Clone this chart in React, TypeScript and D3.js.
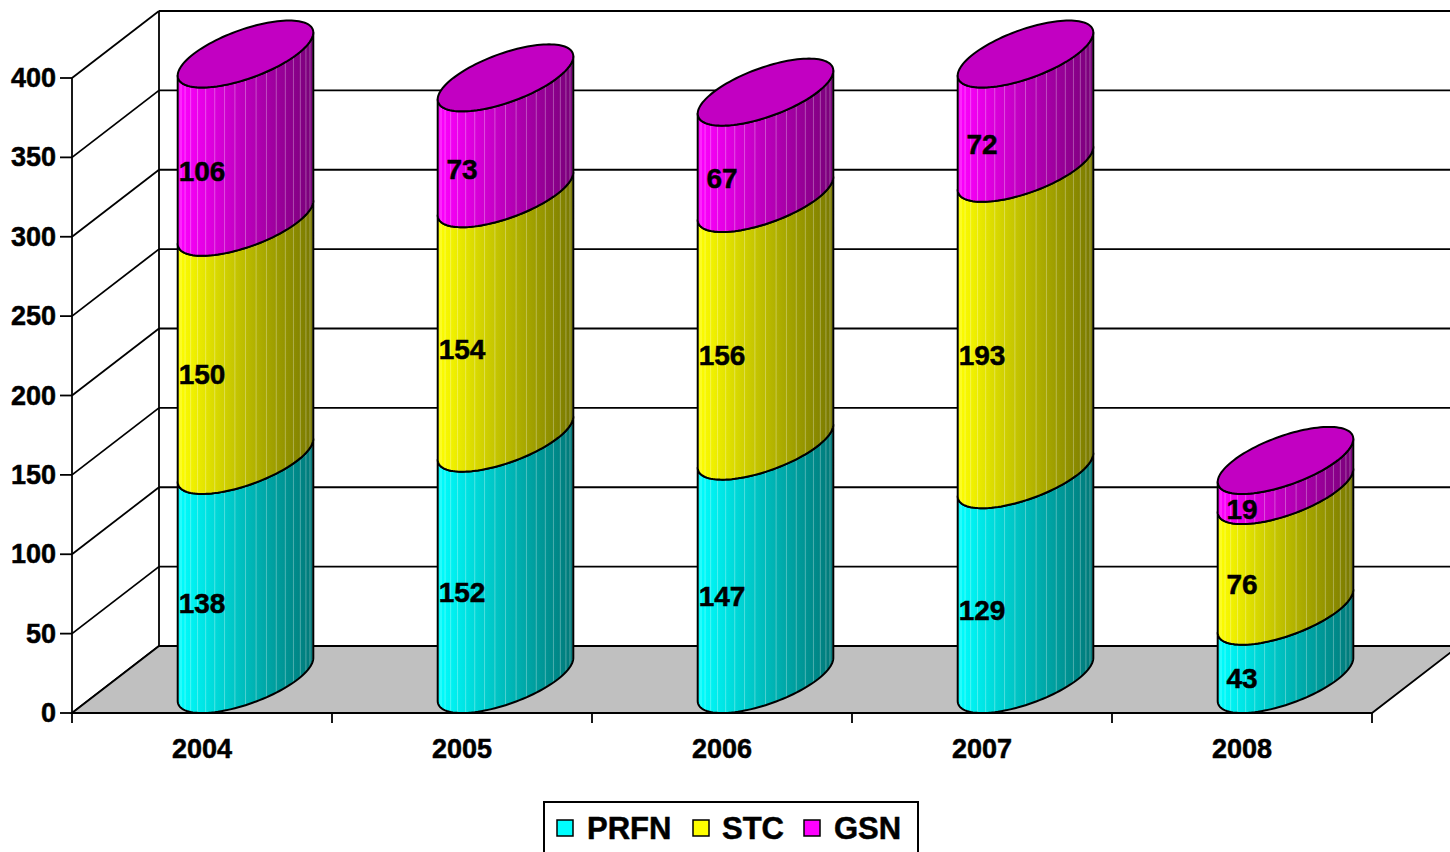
import React from "react";
import * as d3 from "d3";

// ---- data ----
const years = ["2004", "2005", "2006", "2007", "2008"];
const seriesNames = ["PRFN", "STC", "GSN"];
const prfn = [138, 152, 147, 129, 43];
const stc = [150, 154, 156, 193, 76];
const gsn = [106, 73, 67, 72, 19];
const yTicks = [0, 50, 100, 150, 200, 250, 300, 350, 400];

// ---- styling / layout ----
const W = 1450;
const H = 852;
const FONT = "'Liberation Sans', Arial, Helvetica, sans-serif";
const baseColors = ["#00FFFF", "#FFFF00", "#FF00FF"];
const darkColors = ["#007878", "#787800", "#780078"];
const DX = 87; // depth offset x
const DY = 67; // depth offset y
const legendLayout = { x: 544, y: 802, w: 374, h: 70, sq: [557, 693, 804], tx: [587, 722, 834], cy: 828 };
const textStroke = { stroke: "#000", strokeWidth: 0.5 };

export default function App() {
  const values = [prfn, stc, gsn];
  const y = d3.scaleLinear().domain([0, 400]).range([713, 78]);
  const x = d3.scaleBand<string>().domain(years).range([72, 1372]).padding(0);
  const bw = x.bandwidth();
  const rx = bw * 0.2;
  const hx = DX / 2;
  const hy = DY / 2;
  const t0 = Math.atan2(hx, rx);
  const tL = Math.PI + t0;
  const tR = 2 * Math.PI + t0;
  const line = d3.line<[number, number]>().curve(d3.curveLinear);

  const pt = (cx: number, v: number, t: number): [number, number] => [
    cx + rx * Math.cos(t) + hx * (1 + Math.sin(t)),
    y(v) - hy * (1 + Math.sin(t)),
  ];
  const arc = (cx: number, v: number, a: number, b: number, n = 60) =>
    d3.range(n + 1).map((i) => pt(cx, v, a + ((b - a) * i) / n));

  const floorY = y(0);
  const xLeft = 72;
  const xRight = 1372;

  const stripesN = 20;

  const cylinders = years.map((yr, i) => {
    const cx = (x(yr) as number) + bw / 2;
    let cum = 0;
    const segs = values.map((vals, s) => {
      const v0 = cum;
      const v1 = cum + vals[i];
      cum = v1;
      const pts = [...arc(cx, v0, tL, tR), ...arc(cx, v1, tR, tL)];
      const stripes = d3.range(1, stripesN).map((k) => {
        const t = tL + ((tR - tL) * k) / stripesN;
        const a = pt(cx, v0, t);
        const b = pt(cx, v1, t);
        return { x: a[0], y0: a[1], y1: b[1] };
      });
      return { s, v0, v1, d: line(pts) + "Z", stripes, mid: (y(v0) + y(v1)) / 2, val: vals[i] };
    });
    const topPts = arc(cx, cum, 0, 2 * Math.PI, 120);
    return { yr, cx, segs, top: line(topPts) + "Z", total: cum };
  });

  const topIdx = values.length - 1;
  const topFill = d3.interpolateRgb(baseColors[topIdx], darkColors[topIdx])(0.45);

  return (
    <svg
      width={W}
      height={H}
      style={{ position: "absolute", left: 0, top: 0, background: "#fff" }}
      fontFamily={FONT}
      fontWeight="bold"
    >
      <defs>
        {values.map((_, s) => (
          <linearGradient key={s} id={`g${s}`} x1="0" x2="1" y1="0" y2="0">
            <stop offset="0" stopColor={baseColors[s]} />
            <stop offset="1" stopColor={darkColors[s]} />
          </linearGradient>
        ))}
      </defs>

      {/* back wall gridlines */}
      {yTicks.map((v) => (
        <line key={"bg" + v} x1={xLeft + DX} x2={xRight + DX} y1={y(v) - DY} y2={y(v) - DY} stroke="#000" strokeWidth={1.8} />
      ))}
      {/* left wall diagonals */}
      {yTicks.map((v) => (
        <line key={"lg" + v} x1={xLeft} x2={xLeft + DX} y1={y(v)} y2={y(v) - DY} stroke="#000" strokeWidth={1.8} />
      ))}
      <line x1={xLeft + DX} x2={xLeft + DX} y1={y(400) - DY} y2={floorY - DY} stroke="#000" strokeWidth={1.8} />

      {/* floor */}
      <polygon
        points={[
          [xLeft, floorY],
          [xLeft + DX, floorY - DY],
          [xRight + DX, floorY - DY],
          [xRight, floorY],
        ]
          .map((p) => p.join(","))
          .join(" ")}
        fill="#C0C0C0"
        stroke="#000"
        strokeWidth={1.8}
      />

      {/* y axis */}
      <line x1={xLeft} x2={xLeft} y1={y(400)} y2={floorY} stroke="#000" strokeWidth={1.8} />
      {yTicks.map((v) => (
        <g key={"yt" + v}>
          <line x1={xLeft - 12} x2={xLeft} y1={y(v)} y2={y(v)} stroke="#000" strokeWidth={1.8} />
          <text x={xLeft - 16} y={y(v)} textAnchor="end" dominantBaseline="central" fontSize={27} {...textStroke}>
            {v}
          </text>
        </g>
      ))}

      {/* x axis ticks & labels */}
      {[...years.map((yr) => x(yr) as number), xRight].map((xx, k) => (
        <line key={"xt" + k} x1={xx} x2={xx} y1={floorY} y2={floorY + 10} stroke="#000" strokeWidth={1.8} />
      ))}
      {years.map((yr) => (
        <text key={"xl" + yr} x={(x(yr) as number) + bw / 2} y={749} textAnchor="middle" dominantBaseline="central" fontSize={27} {...textStroke}>
          {yr}
        </text>
      ))}

      {/* cylinders */}
      {cylinders.map((c) => (
        <g key={"c" + c.yr}>
          {c.segs.map((sg) => (
            <g key={sg.s}>
              <path d={sg.d} fill={`url(#g${sg.s})`} stroke="none" />
              {sg.stripes.map((st, k) => (
                <line key={k} x1={st.x} x2={st.x} y1={st.y0} y2={st.y1} stroke="#fff" strokeOpacity={0.3} strokeWidth={1} />
              ))}
              <path d={sg.d} fill="none" stroke="#000" strokeWidth={2} strokeLinejoin="round" />
            </g>
          ))}
          <path d={c.top} fill={topFill} stroke="#000" strokeWidth={2} />
        </g>
      ))}

      {/* data labels */}
      {cylinders.map((c) =>
        c.segs.map((sg) => (
          <text key={c.yr + "-" + sg.s} x={c.cx} y={sg.mid} textAnchor="middle" dominantBaseline="central" fontSize={28} fill="#000" {...textStroke}>
            {sg.val}
          </text>
        ))
      )}

      {/* legend */}
      <rect x={legendLayout.x} y={legendLayout.y} width={legendLayout.w} height={legendLayout.h} fill="#fff" stroke="#000" strokeWidth={2} />
      {seriesNames.map((n, s) => (
        <g key={n}>
          <rect x={legendLayout.sq[s]} y={legendLayout.cy - 8} width={16} height={16} fill={baseColors[s]} stroke="#000" strokeWidth={1.5} />
          <text x={legendLayout.tx[s]} y={legendLayout.cy} dominantBaseline="central" fontSize={31} {...textStroke}>
            {n}
          </text>
        </g>
      ))}
    </svg>
  );
}
